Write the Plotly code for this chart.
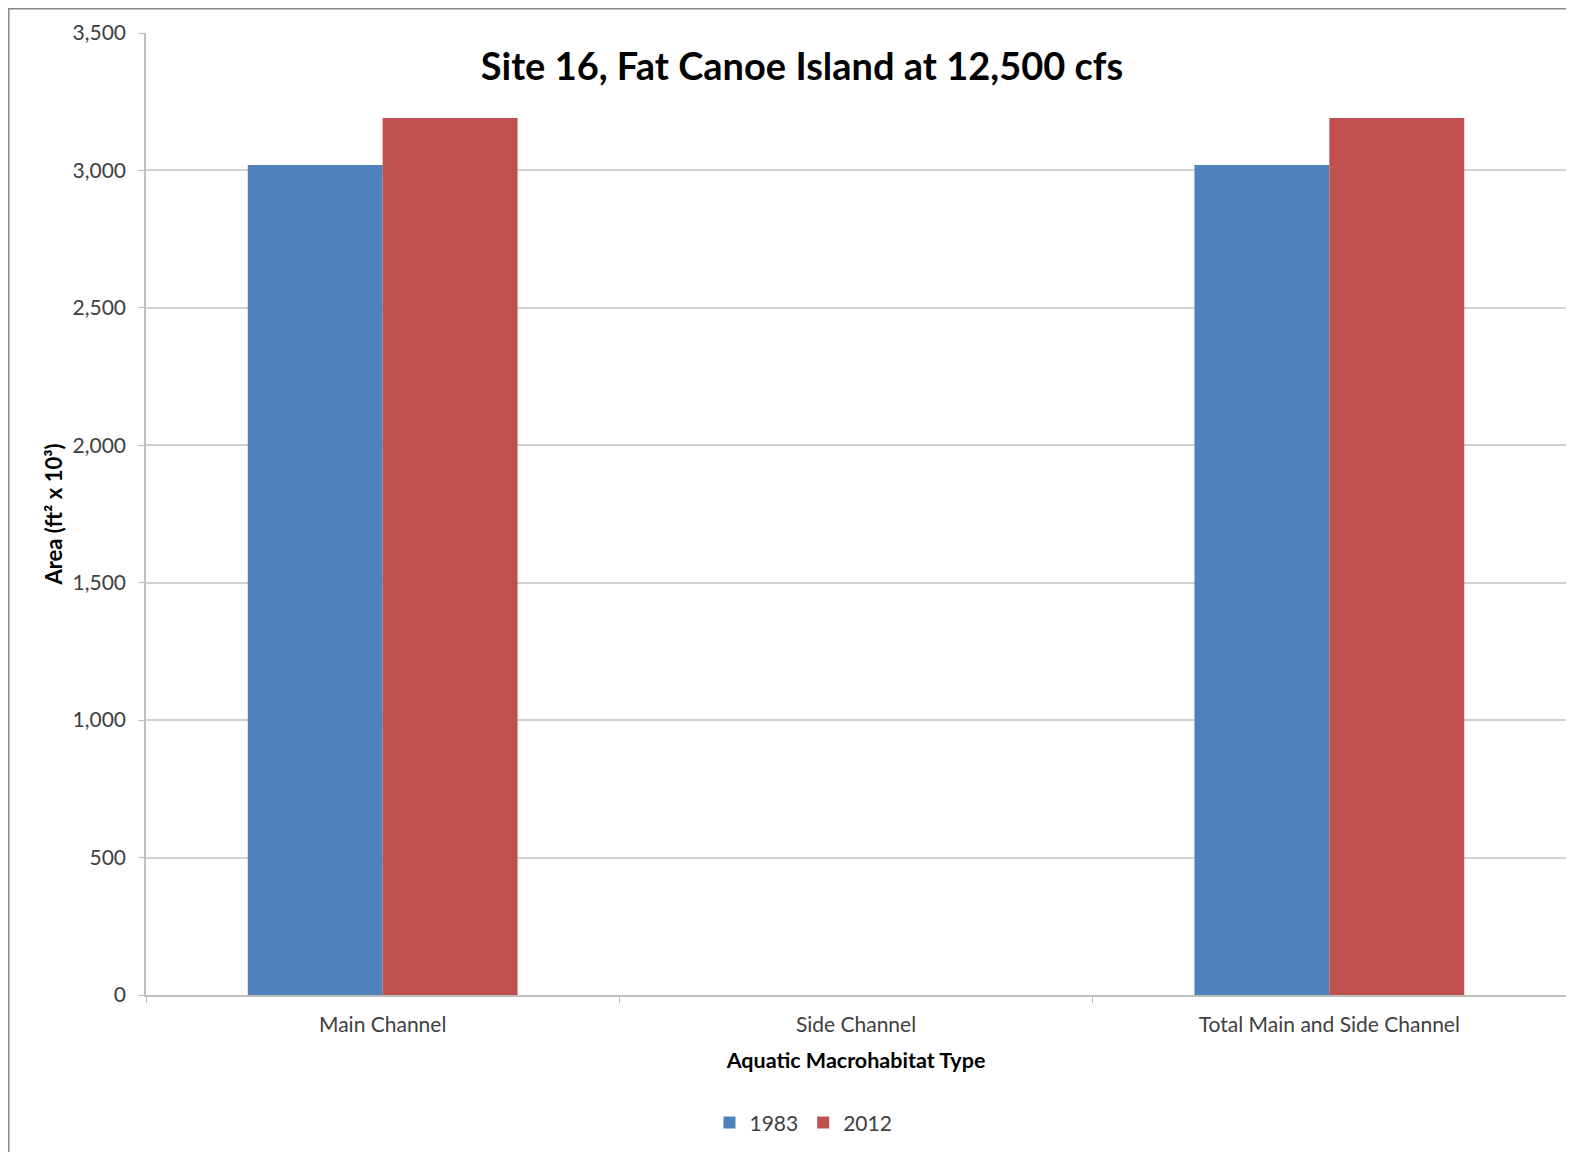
import plotly.graph_objects as go

categories = ["Main Channel", "Side Channel", "Total Main and Side Channel"]
values_1983 = [3020, 0, 3020]
values_2012 = [3191, 0, 3191]
series_names = ["1983", "2012"]
y_ticks = [0, 500, 1000, 1500, 2000, 2500, 3000, 3500]

FONT = "Lato"
PW, PH = 1420, 962  # plot area size in px

fig = go.Figure()
fig.add_trace(go.Bar(x=categories, y=values_1983, name=series_names[0],
                     marker=dict(color="#4F81BD", line=dict(width=0))))
fig.add_trace(go.Bar(x=categories, y=values_2012, name=series_names[1],
                     marker=dict(color="#C0504D", line=dict(width=0))))

# page has an 8px body margin; figure is sized to the remaining area
fig.update_layout(
    width=1566, height=1144,
    margin=dict(l=138, r=8, t=25, b=157, autoexpand=False),
    paper_bgcolor="white", plot_bgcolor="white",
    barmode="group", bargap=0.43, bargroupgap=0,
    font=dict(family=FONT, color="#404040"),
    title=dict(text="<b>Site 16, Fat Canoe Island at 12,500 cfs</b>",
               x=0.507, xanchor="center", y=0.949, yanchor="middle",
               font=dict(size=38, color="#000000", family=FONT)),
    legend=dict(orientation="h", x=0.463, xanchor="center", y=-0.133, yanchor="middle",
                font=dict(size=21, color="#404040"), itemwidth=30, traceorder="normal"),
    shapes=[dict(type="rect", xref="paper", yref="paper", x0=-137.2 / PW, x1=1.5, y0=-2, y1=1 + 24.2 / PH,
                 line=dict(color="#888888", width=1.5), fillcolor="rgba(0,0,0,0)", layer="below")],
)
fig.update_xaxes(
    automargin=False,
    showline=True, linecolor="#BFBFBF", linewidth=1.5,
    ticks="outside", tickson="boundaries", ticklen=6, tickcolor="#BFBFBF",
    ticklabelstandoff=10,
    tickfont=dict(size=21, color="#404040"),
    title=dict(text="<b>Aquatic Macrohabitat Type</b>", font=dict(size=21.5, color="#000000"), standoff=18),
    showgrid=False,
)
fig.update_yaxes(
    automargin=False,
    range=[0, 3500], tickvals=y_ticks, tickformat=",",
    showline=True, linecolor="#BFBFBF", linewidth=1.5,
    ticks="outside", ticklen=6, tickcolor="#BFBFBF",
    ticklabelstandoff=8,
    showgrid=True, gridcolor="#D0D0D0", gridwidth=1.5,
    zeroline=False,
    tickfont=dict(size=21, color="#404040"),
    title=dict(text="<b>Area (ft² x 10³)</b>", font=dict(size=22, color="#000000"), standoff=4),
)
fig.write_html("out.html")
